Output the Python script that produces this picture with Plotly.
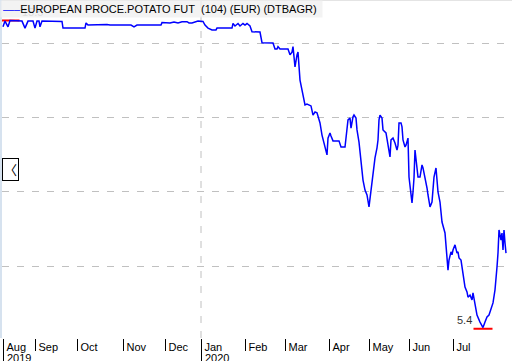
import plotly.graph_objects as go

# trading-day position (0 = first session shown, mid Aug 2019) and settlement price (EUR)
day_idx = [0, 1, 2.5, 3.5, 9.5, 11, 12.5, 15, 16, 17, 18, 18.5, 19.5, 29.5, 30, 41, 41.5, 42.5, 52, 53.5,
           64, 65.5, 67, 79, 79.5, 83.5, 85.5, 87.5, 89.5, 92, 93, 94.5, 96, 97.5, 100, 101, 102.5, 104.5,
           106.5, 107, 114.5, 115, 116, 117.5, 118.5, 120, 121, 122, 123.5, 124.5, 128.5, 129.5, 135, 136,
           137, 137.5, 138.5, 142.5, 143.5, 144.5, 145, 146, 147, 147.5, 148.5, 150, 151, 152, 153, 154,
           155, 156, 157, 158.5, 159.5, 160.5, 161, 162, 162.5, 163.5, 164, 165, 168, 169, 171, 172,
           172.5, 173.5, 174, 175, 175.5, 176.5, 177, 178, 178.5, 179.5, 180, 181, 182, 183, 184, 185,
           186, 187, 187.5, 188, 188.5, 189.5, 190, 191.5, 192, 193, 193.5, 194, 195, 196, 197, 197.5,
           198, 199, 199.5, 200, 201, 201.5, 202.5, 203, 204, 204.5, 205, 205.5, 206, 206.5, 207.5,
           208.5, 209.5, 210, 211, 212, 212.5, 213.5, 214.5, 215, 215.5, 216.5, 217, 217.5, 218.5, 219,
           219.5, 221, 222, 222.5, 223, 224, 224.5, 225, 226, 227, 227.5, 228, 229, 229.5, 230, 231,
           232, 232.5, 233.5, 234.5, 235, 236, 237, 238.5, 240, 241, 242, 243, 244, 245, 246, 246.5,
           247, 247.5, 248, 249, 249.5, 250, 250.5, 251, 251.5]
price = [15.29, 15.48, 15.29, 15.50, 15.48, 15.25, 15.48, 15.48, 15.25, 15.48, 15.48, 15.29, 15.48, 15.47,
         15.25, 15.25, 15.42, 15.35, 15.37, 15.35, 15.35, 15.29, 15.35, 15.35, 15.43, 15.42, 15.45, 15.42,
         15.46, 15.46, 15.42, 15.42, 15.45, 15.48, 15.47, 15.35, 15.25, 15.19, 15.19, 15.25, 15.25, 15.40,
         15.32, 15.40, 15.32, 15.40, 15.35, 15.40, 15.32, 15.13, 15.12, 14.77, 14.76, 14.56, 14.56, 14.64,
         14.56, 14.56, 14.37, 14.46, 14.64, 13.97, 14.37, 14.46, 13.54, 13.05, 12.72, 12.75, 12.72, 12.69,
         12.39, 12.49, 12.46, 12.13, 11.73, 11.50, 11.31, 11.08, 11.63, 11.80, 11.70, 11.54, 11.54, 11.34,
         11.34, 11.90, 12.23, 12.29, 11.96, 12.33, 12.39, 12.29, 11.90, 11.50, 11.14, 10.65, 10.25, 9.92,
         9.76, 9.37, 9.92, 10.48, 10.98, 11.31, 11.57, 12.23, 12.39, 12.29, 11.90, 11.80, 11.63, 11.17,
         11.01, 11.57, 11.63, 11.47, 11.24, 11.40, 12.13, 12.13, 12.00, 11.57, 11.34, 11.40, 11.63, 10.35,
         9.69, 9.50, 9.86, 10.32, 11.24, 10.98, 10.35, 10.35, 10.75, 10.65, 10.35, 9.99, 9.76, 9.37, 9.53,
         9.92, 10.35, 10.65, 10.25, 9.86, 9.53, 9.10, 8.87, 8.51, 7.85, 7.29, 7.62, 7.89, 7.79, 7.95, 8.12,
         7.85, 7.89, 7.69, 7.62, 7.39, 7.03, 6.73, 6.57, 6.40, 6.47, 6.31, 6.54, 6.14, 5.81, 5.58, 5.40,
         5.58, 5.75, 5.81, 5.98, 6.21, 6.64, 7.19, 7.39, 7.85, 8.61, 8.28, 8.51, 7.95, 8.61, 8.18, 7.85]

month_idx = [0, 16, 37, 60, 81, 99, 121, 141, 163, 183, 203, 225]
month_labels = ["Aug", "Sep", "Oct", "Nov", "Dec", "Jan", "Feb", "Mar", "Apr", "May", "Jun", "Jul"]
year_idx = [0, 99]
year_labels = ["2019", "2020"]
grid_vals = [14.75, 12.31, 9.86, 7.42]
series_name = "EUROPEAN PROCE.POTATO FUT\u00a0 (104) (EUR) (DTBAGR)"

FONT = "Liberation Sans, Arial, sans-serif"
HALF = 4.75

i_max = price.index(max(price))
i_min = price.index(min(price))
hi, lo = price[i_max], price[i_min]

fig = go.Figure()
fig.add_trace(go.Scatter(x=[day_idx[i_max] - HALF, day_idx[i_max] + HALF], y=[hi, hi], mode="lines",
                         line=dict(color="#ff0000", width=2), hoverinfo="skip", showlegend=False))
fig.add_trace(go.Scatter(x=[day_idx[i_min] - HALF, day_idx[i_min] + HALF], y=[lo - 0.04, lo - 0.04],
                         mode="lines", line=dict(color="#ff0000", width=2), hoverinfo="skip",
                         showlegend=False))
fig.add_trace(go.Scatter(x=day_idx, y=price, mode="lines", name=series_name,
                         line=dict(color="#0000ff", width=1.5), showlegend=False))

fig.add_shape(type="line", xref="x", yref="paper", x0=month_idx[5], x1=month_idx[5], y0=0, y1=1,
              line=dict(color="#c0c0c0", width=1, dash="7px,8px"), layer="below")
fig.add_shape(type="line", xref="paper", yref="paper", x0=0, x1=1, y0=1, y1=1,
              line=dict(color="#e4e4e4", width=2))

annotations = [
    dict(x=day_idx[i_max] + HALF, y=hi, xref="x", yref="y", text=f"{hi:.1f}", showarrow=False,
         xanchor="left", yanchor="bottom", font=dict(family=FONT, size=11, color="#909090")),
    dict(x=0, y=1, xref="paper", yref="paper", xanchor="left", yanchor="top", xshift=-2,
         text="<span style='color:#0000ff'>\u2014\u2013</span>" + series_name + "\u00a0",
         showarrow=False, align="left", bgcolor="rgba(240,240,240,0.8)", borderpad=2,
         font=dict(family=FONT, size=11, color="#000000")),
    dict(x=day_idx[i_min] - HALF, y=lo, xref="x", yref="y", text=f"{lo:.1f}", showarrow=False,
         xanchor="right", yanchor="bottom", xshift=0,
         font=dict(family=FONT, size=11, color="#333333")),
    dict(x=0, y=0.5, xref="paper", yref="paper", text="\u3008", showarrow=False, xanchor="left",
         yanchor="middle", bordercolor="#000000", borderwidth=1, borderpad=1, bgcolor="#ffffff",
         font=dict(family="Noto Sans CJK SC", size=13, color="#000000")),
]
for xi, lab in zip(year_idx, year_labels):
    annotations.append(dict(x=xi, y=0, xref="x", yref="paper", text=lab, showarrow=False,
                            xanchor="left", yanchor="top", xshift=2, yshift=-12,
                            font=dict(family=FONT, size=11, color="#000000")))

fig.update_layout(
    width=512, height=361,
    margin=dict(l=2, r=0, t=0, b=23),
    paper_bgcolor="#ffffff", plot_bgcolor="#ffffff",
    showlegend=False,
    annotations=annotations,
    xaxis=dict(range=[-0.5, 254.5], tickmode="array", tickvals=month_idx, ticktext=month_labels,
               ticks="outside", ticklen=12, tickwidth=1, tickcolor="#000000",
               ticklabelposition="outside right", ticklabelstandoff=-1, ticklabelshift=3,
               tickfont=dict(family=FONT, size=11, color="#000000"),
               minor=dict(tickmode="array", tickvals=year_idx, ticks="outside", ticklen=23,
                          tickwidth=1, tickcolor="#000000", showgrid=False),
               showgrid=False, zeroline=False, showline=False, fixedrange=True),
    yaxis=dict(range=[5.056, 16.174], tickmode="array", tickvals=grid_vals, showticklabels=False,
               ticks="", showgrid=True, gridcolor="#c0c0c0", gridwidth=1, griddash="7px,8px",
               zeroline=False, showline=True, linecolor="#d6e2ef", linewidth=2, fixedrange=True),
)

fig.write_html("out.html")
